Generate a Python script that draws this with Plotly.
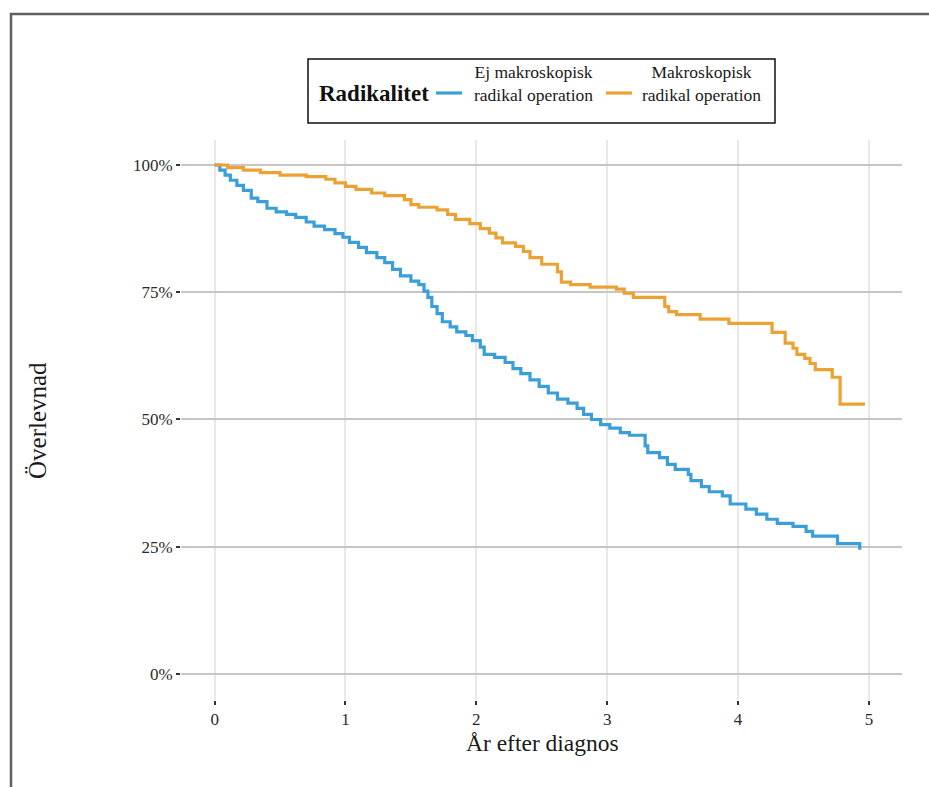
import plotly.graph_objects as go

# ---- data (Kaplan-Meier step curves) ----
blue_name = "Ej makroskopisk radikal operation"
blue_t = [0, 0.04, 0.08, 0.12, 0.17, 0.22, 0.28, 0.33, 0.40, 0.47, 0.55, 0.62, 0.70, 0.76,
          0.84, 0.92, 0.98, 1.03, 1.10, 1.16, 1.24, 1.30, 1.36, 1.42, 1.50, 1.56, 1.60, 1.63,
          1.66, 1.70, 1.74, 1.80, 1.85, 1.92, 1.97, 2.03, 2.06, 2.14, 2.22, 2.28, 2.34, 2.41,
          2.48, 2.55, 2.62, 2.70, 2.77, 2.82, 2.88, 2.95, 3.02, 3.10, 3.17, 3.29, 3.31, 3.40,
          3.46, 3.52, 3.62, 3.64, 3.72, 3.78, 3.88, 3.94, 4.06, 4.14, 4.22, 4.30, 4.42, 4.52,
          4.57, 4.76, 4.93]
blue_s = [1.0, 0.99, 0.98, 0.97, 0.96, 0.95, 0.935, 0.928, 0.915, 0.908, 0.903, 0.897, 0.888, 0.880,
          0.873, 0.865, 0.858, 0.848, 0.838, 0.828, 0.818, 0.808, 0.795, 0.782, 0.772, 0.765, 0.752, 0.740,
          0.722, 0.708, 0.692, 0.682, 0.672, 0.665, 0.655, 0.642, 0.628, 0.622, 0.612, 0.600, 0.590, 0.578,
          0.565, 0.552, 0.540, 0.532, 0.522, 0.510, 0.500, 0.490, 0.483, 0.474, 0.469, 0.448, 0.435, 0.425,
          0.412, 0.402, 0.392, 0.380, 0.368, 0.358, 0.350, 0.334, 0.324, 0.314, 0.304, 0.296, 0.290, 0.280,
          0.271, 0.256, 0.244]

orange_name = "Makroskopisk radikal operation"
orange_t = [0, 0.10, 0.22, 0.35, 0.50, 0.70, 0.85, 0.92, 1.00, 1.08, 1.20, 1.30, 1.45, 1.50,
            1.56, 1.70, 1.78, 1.84, 1.95, 2.03, 2.10, 2.15, 2.20, 2.30, 2.36, 2.41, 2.50, 2.62,
            2.65, 2.72, 2.87, 3.07, 3.13, 3.20, 3.44, 3.47, 3.53, 3.71, 3.93, 4.26, 4.36, 4.42,
            4.45, 4.51, 4.55, 4.59, 4.72, 4.78, 4.97]
orange_s = [1.0, 0.995, 0.99, 0.985, 0.98, 0.977, 0.972, 0.965, 0.958, 0.952, 0.945, 0.940, 0.932, 0.922,
            0.917, 0.912, 0.903, 0.893, 0.885, 0.875, 0.866, 0.857, 0.847, 0.840, 0.830, 0.818, 0.805, 0.790,
            0.770, 0.765, 0.760, 0.756, 0.748, 0.740, 0.722, 0.712, 0.706, 0.697, 0.689, 0.671, 0.650, 0.640,
            0.628, 0.620, 0.610, 0.598, 0.583, 0.530, 0.530]

x_ticks = [0, 1, 2, 3, 4, 5]
y_ticks = [0, 0.25, 0.5, 0.75, 1.0]

legend_title = "Radikalitet"
legend_labels = ["Ej makroskopisk<br>radikal operation", "Makroskopisk<br>radikal operation"]
x_title = "År efter diagnos"
y_title = "Överlevnad"

BLUE = "#3a9fd8"
ORANGE = "#eba232"
FONT = "Liberation Serif"

fig = go.Figure()
fig.add_trace(go.Scatter(x=blue_t, y=blue_s, mode="lines", line_shape="hv",
                         line=dict(color=BLUE, width=3.2), name=blue_name, showlegend=False))
fig.add_trace(go.Scatter(x=orange_t, y=orange_s, mode="lines", line_shape="hv",
                         line=dict(color=ORANGE, width=3.2), name=orange_name, showlegend=False))

W, H = 929, 787
L, R, T, B = 181, 27, 140, 87
PW, PH = W - L - R, H - T - B


def px(xp):
    return (xp - L) / PW


def py(yp):
    return (H - B - yp) / PH


fig.update_layout(
    width=W, height=H,
    margin=dict(l=L, r=R, t=T, b=B),
    paper_bgcolor="white", plot_bgcolor="white",
    font=dict(family=FONT, size=17, color="#2b2b2b"),
    showlegend=False,
    xaxis=dict(range=[-0.257, 5.253], tickvals=x_ticks, showgrid=True,
               gridcolor="#ebe7e7", gridwidth=1.5, zeroline=False, showline=False,
               ticks="outside", ticklen=4, tickwidth=2, tickcolor="#333",
               tickfont=dict(family=FONT, size=17, color="#2b2b2b")),
    yaxis=dict(range=[-0.0511, 1.0491], tickvals=y_ticks, tickformat=".0%", showgrid=True,
               gridcolor="#c9c5c5", gridwidth=2, zeroline=False, showline=False,
               ticks="outside", ticklen=4, tickwidth=2, tickcolor="#333",
               tickfont=dict(family=FONT, size=17, color="#2b2b2b")),
)

shapes = []
# outer frame (left + top visible)
shapes.append(dict(type="rect", xref="paper", yref="paper",
                   x0=px(11), x1=px(940), y0=py(800), y1=py(14),
                   line=dict(color="#5f5f5f", width=2.5), fillcolor="rgba(0,0,0,0)", layer="above"))
# legend box
shapes.append(dict(type="rect", xref="paper", yref="paper",
                   x0=px(308), x1=px(775), y0=py(123), y1=py(59),
                   line=dict(color="#111", width=1.5), fillcolor="white", layer="above"))
# legend swatches
shapes.append(dict(type="line", xref="paper", yref="paper",
                   x0=px(436), x1=px(462), y0=py(93), y1=py(93),
                   line=dict(color=BLUE, width=3.2), layer="above"))
shapes.append(dict(type="line", xref="paper", yref="paper",
                   x0=px(606), x1=px(632), y0=py(93), y1=py(93),
                   line=dict(color=ORANGE, width=3.2), layer="above"))
fig.update_layout(shapes=shapes)

ann = [
    dict(text="<b>" + legend_title + "</b>", xref="paper", yref="paper", x=px(317), y=py(93),
         xanchor="left", yanchor="middle", showarrow=False,
         font=dict(family=FONT, size=23, color="#111")),
    dict(text=legend_labels[0], xref="paper", yref="paper", x=px(533), y=py(84),
         xanchor="center", yanchor="middle", align="center", showarrow=False,
         font=dict(family=FONT, size=17.5, color="#1a1a1a")),
    dict(text=legend_labels[1], xref="paper", yref="paper", x=px(701), y=py(84),
         xanchor="center", yanchor="middle", align="center", showarrow=False,
         font=dict(family=FONT, size=17.5, color="#1a1a1a")),
    dict(text=x_title, xref="paper", yref="paper", x=px(542), y=py(743),
         xanchor="center", yanchor="middle", showarrow=False,
         font=dict(family=FONT, size=23.5, color="#1a1a1a")),
    dict(text=y_title, xref="paper", yref="paper", x=px(37), y=py(421),
         xanchor="center", yanchor="middle", textangle=-90, showarrow=False,
         font=dict(family=FONT, size=25, color="#1a1a1a")),
]
fig.update_layout(annotations=ann)

fig.write_html("out.html")
